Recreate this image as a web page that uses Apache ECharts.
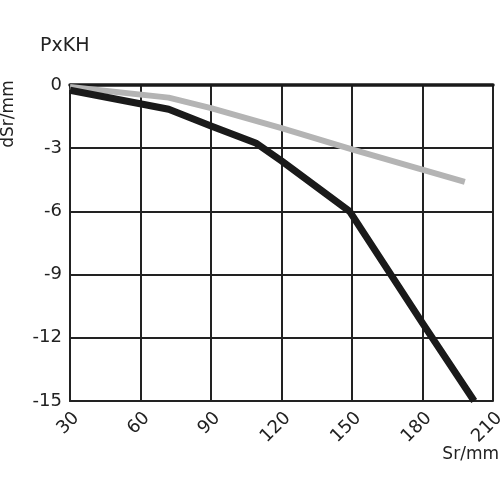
<!DOCTYPE html>
<html><head><meta charset="utf-8">
<script src="https://cdn.jsdelivr.net/npm/echarts@6/dist/echarts.min.js"></script>
<style>html,body{margin:0;padding:0;background:#fff}#c{width:500px;height:500px}</style>
</head><body><div id="c"></div>
<script>
var title = 'PxKH';
var xName = 'Sr/mm';
var yName = 'dSr/mm';
var xTicks = [30, 60, 90, 120, 150, 180, 210];
var yTicks = [0, -3, -6, -9, -12, -15];
var blackSeries = [[30, -0.25], [72, -1.15], [90, -1.95], [109, -2.75], [120, -3.6], [149, -6.0], [180, -11.3], [202, -15.0]];
var graySeries = [[30, -0.1], [72, -0.6], [90, -1.1], [120, -2.05], [150, -3.05], [198, -4.6]];

var font = '"DejaVu Sans", sans-serif';
var chart = echarts.init(document.getElementById('c'), null, {renderer: 'canvas'});
chart.setOption({
  backgroundColor: '#fff',
  animation: false,
  title: {text: title, left: 40, top: 37, padding: 0, textStyle: {fontFamily: font, fontSize: 19, fontWeight: 'normal', color: '#222'}},
  graphic: [{
    type: 'text', x: 9, y: 114, rotation: Math.PI / 2,
    style: {text: yName, fontFamily: font, fontSize: 17, fill: '#222', align: 'center', verticalAlign: 'middle'}
  }, {
    type: 'text', x: 499, y: 455,
    style: {text: xName, fontFamily: font, fontSize: 17, fill: '#222', align: 'right', verticalAlign: 'middle'}
  }],
  grid: {left: 70, right: 7, top: 85, bottom: 99, show: false, containLabel: false, outerBoundsMode: 'none'},
  xAxis: [{
    type: 'value', min: xTicks[0], max: xTicks[xTicks.length - 1], interval: 30,
    axisLine: {show: true, onZero: false, lineStyle: {color: '#222', width: 2}},
    axisTick: {show: false},
    splitLine: {show: true, lineStyle: {color: '#222', width: 2}},
    axisLabel: {rotate: 45, margin: 8, verticalAlign: 'top', fontFamily: font, fontSize: 18, color: '#222'}
  }, {
    type: 'value', position: 'top', min: xTicks[0], max: xTicks[xTicks.length - 1], interval: 30,
    axisLine: {show: true, onZero: false, lineStyle: {color: '#1a1a1a', width: 3.5}},
    axisTick: {show: false}, axisLabel: {show: false}, splitLine: {show: false}
  }],
  yAxis: {
    type: 'value', min: yTicks[yTicks.length - 1], max: yTicks[0], interval: 3,
    axisLine: {show: true, onZero: false, lineStyle: {color: '#222', width: 2}},
    axisTick: {show: false},
    splitLine: {show: true, lineStyle: {color: '#222', width: 2}},
    axisLabel: {margin: 8, fontFamily: font, fontSize: 18, color: '#222'}
  },
  series: [
    {type: 'line', data: graySeries, symbol: 'none', lineStyle: {color: '#b4b4b4', width: 6, join: 'round'}, z: 3},
    {type: 'line', data: blackSeries, symbol: 'none', lineStyle: {color: '#1a1a1a', width: 7, join: 'round'}, z: 4}
  ]
});
</script></body></html>
